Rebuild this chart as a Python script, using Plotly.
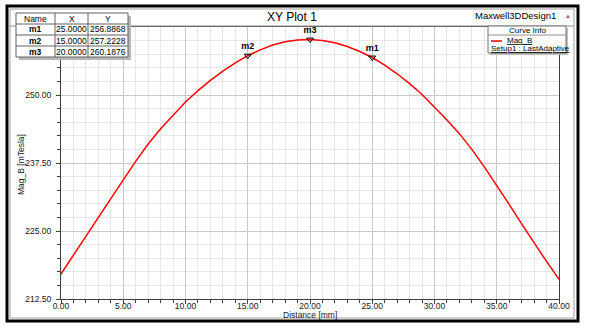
import plotly.graph_objects as go

# ---------------- data ----------------
distance_mm = list(range(0, 41))
mag_b = [217.1, 220.6, 224.1, 227.6, 231.0, 234.4, 237.8, 241.0, 243.8, 246.3,
         248.7, 250.8, 252.7, 254.4, 255.9, 257.22, 258.3, 259.2, 259.8, 260.1,
         260.19, 260.0, 259.6, 258.9, 258.0, 256.89, 255.5, 253.9, 252.1, 250.1,
         247.8, 245.4, 242.9, 240.0, 236.8, 233.4, 229.9, 226.3, 222.8, 219.4, 216.1]

marker_names = ["m1", "m2", "m3"]
marker_x = [25.0, 15.0, 20.0]
marker_y = [256.8868, 257.2228, 260.1876]

x_ticks = [0, 5, 10, 15, 20, 25, 30, 35, 40]
y_ticks = [212.5, 225.0, 237.5, 250.0]

table_header = ["Name", "X", "Y"]

# ---------------- layout helpers ----------------
W, H = 589, 335
L, R, T, B = 61, 30, 27, 36
PW, PH = W - L - R, H - T - B
FONT = "Liberation Sans, Arial, sans-serif"


def px(x):
    return (x - L) / PW


def py(y):
    return (H - B - y) / PH


shapes = []
annotations = []


def rect(x0, y0, x1, y1, line_color=None, width=1, fill=None):
    d = dict(type="rect", xref="paper", yref="paper",
             x0=px(x0), x1=px(x1), y0=py(y0), y1=py(y1), layer="above")
    if line_color:
        d["line"] = dict(color=line_color, width=width)
    else:
        d["line"] = dict(width=0)
    if fill:
        d["fillcolor"] = fill
    shapes.append(d)


def line(x0, y0, x1, y1, color, width=1):
    shapes.append(dict(type="line", xref="paper", yref="paper",
                       x0=px(x0), x1=px(x1), y0=py(y0), y1=py(y1),
                       line=dict(color=color, width=width), layer="above"))


def text(x, y, s, size=9, xanchor="center", color="#000", angle=0):
    annotations.append(dict(xref="paper", yref="paper", x=px(x), y=py(y),
                            text=s, showarrow=False, xanchor=xanchor,
                            yanchor="middle", textangle=angle,
                            font=dict(family=FONT, size=size, color=color)))


# outer frame
rect(7, 6, 578, 321, "#000000", 3)
rect(10, 9, 574, 318, "#a0a0a0", 1)
# title bar bottom line
line(10, 26, 574, 26, "#909090", 1)

# title texts
text(292, 17, "XY Plot 1", size=12)
text(558, 16, "Maxwell3DDesign1", size=9.5, xanchor="right")
text(568, 16, "▲", size=6, color="#c05050")

# curve info legend box
rect(490, 28, 568, 55, None, 0, "#c0c0c0")
rect(488, 26, 566, 53, "#707070", 1, "#ffffff")
line(488, 35, 566, 35, "#909090", 1)
text(527, 30.5, "Curve Info", size=8)
line(491, 41, 502, 41, "#ff0000", 1.5)
text(505, 40.5, "<u>Mag_B</u>", size=8, xanchor="left")
text(489, 48.5, "<u>Setup1 : LastAdaptive</u>", size=8, xanchor="left")

# marker table
tx = [16, 55, 88, 128]
ty = [13, 24, 35, 46, 57]
rect(tx[0] + 3, ty[0] + 3, tx[-1] + 3, ty[-1] + 3, None, 0, "#b8b8b8")
rect(tx[0], ty[0], tx[-1], ty[-1], "#606060", 1, "#ffffff")
for xv in tx[1:-1]:
    line(xv, ty[0], xv, ty[-1], "#606060", 1)
for yv in ty[1:-1]:
    line(tx[0], yv, tx[-1], yv, "#606060", 1)
col_c = [(tx[i] + tx[i + 1]) / 2 for i in range(3)]
row_c = [(ty[i] + ty[i + 1]) / 2 for i in range(4)]
for c, h in enumerate(table_header):
    text(col_c[c], row_c[0], h, size=8.5)
for r, (n, xv, yv) in enumerate(zip(marker_names, marker_x, marker_y)):
    text(col_c[0], row_c[r + 1], f"<b>{n}</b>", size=8.5)
    text(col_c[1], row_c[r + 1], f"{xv:.4f}", size=8.5)
    text(col_c[2], row_c[r + 1], f"{yv:.4f}", size=8.5)

# axis titles
text(21, 165, "Mag_B [mTesla]", size=8.5, angle=-90, color="#202020")
text(310, 314.5, "Distance [mm]", size=8.5, color="#202020")

# ---------------- figure ----------------
fig = go.Figure()
fig.add_trace(go.Scatter(x=distance_mm, y=mag_b, mode="lines",
                         line=dict(color="#ff0000", width=1.5),
                         hoverinfo="skip", showlegend=False))
fig.add_trace(go.Scatter(x=marker_x, y=marker_y, mode="markers+text",
                         text=[f"<b>{n}</b>" for n in marker_names],
                         textposition="top center",
                         textfont=dict(family=FONT, size=9, color="#000"),
                         marker=dict(symbol="triangle-down-open", size=6,
                                     color="#000", line=dict(width=1)),
                         showlegend=False, cliponaxis=False))

axis_common = dict(showline=True, linecolor="#404040", linewidth=1, mirror=True,
                   ticks="outside", ticklen=4, tickcolor="#404040",
                   showgrid=True, gridcolor="#c8c8c8", gridwidth=1,
                   zeroline=False,
                   tickfont=dict(family=FONT, size=8.5, color="#202020"))

fig.update_layout(
    width=W, height=H,
    margin=dict(l=L, r=R, t=T, b=B, pad=0),
    paper_bgcolor="#ffffff", plot_bgcolor="#ffffff",
    showlegend=False,
    shapes=shapes, annotations=annotations,
    xaxis=dict(range=[0, 40], tickmode="array", tickvals=x_ticks,
               ticktext=[f"{v:.2f}" for v in x_ticks],
               ticklabelstandoff=-5,
               minor=dict(dtick=1, tick0=0, showgrid=True, gridcolor="#e6e6e6",
                          ticks="outside", ticklen=3, tickcolor="#404040"),
               **axis_common),
    yaxis=dict(range=[212.5, 262.5], tickmode="array", tickvals=y_ticks,
               ticktext=[f"{v:.2f}" for v in y_ticks],
               ticklabelstandoff=3,
               minor=dict(dtick=2.5, tick0=212.5, showgrid=True, gridcolor="#e6e6e6",
                          ticks="outside", ticklen=3, tickcolor="#404040"),
               **axis_common),
)

fig.write_html("out.html")
